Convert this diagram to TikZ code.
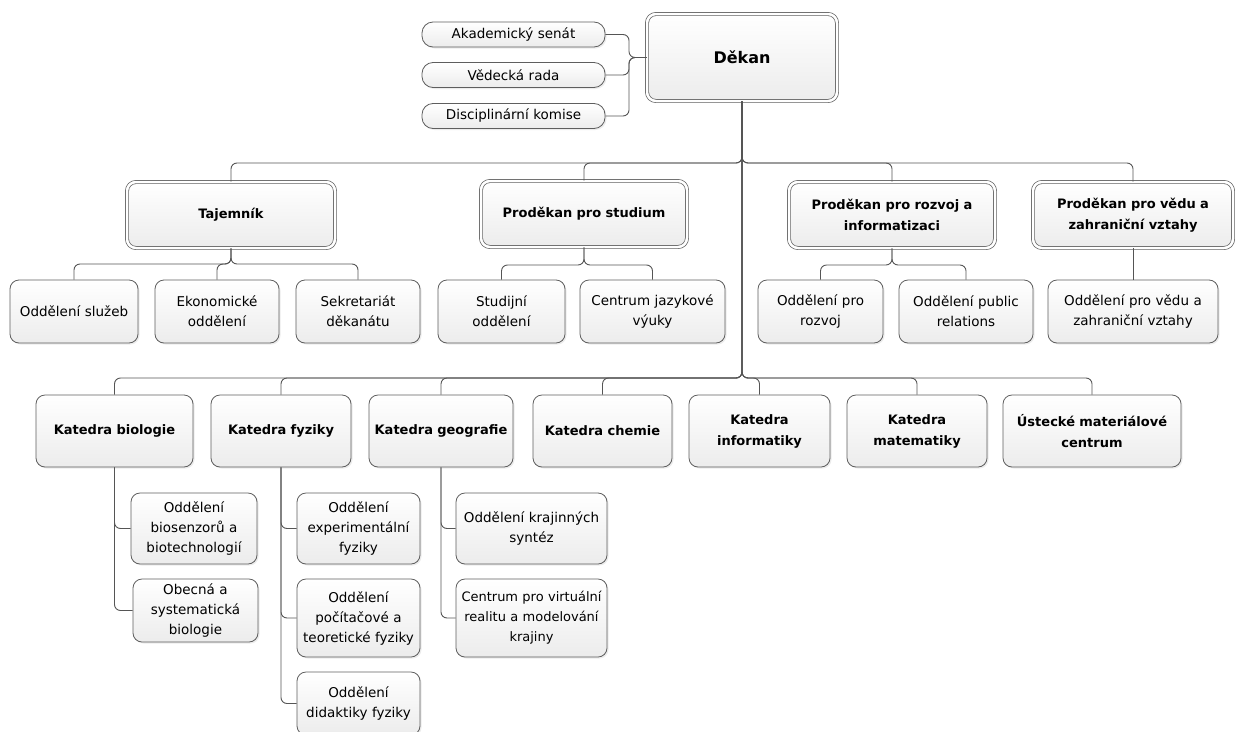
\documentclass[tikz,border=0pt]{standalone}
\usepackage{fontspec}
\setmainfont{DejaVu Sans}
\usetikzlibrary{shadows}
\definecolor{bd}{HTML}{5E5E5E}
\definecolor{cn}{HTML}{555555}
\definecolor{fb}{HTML}{ECECEC}
\tikzset{
  box/.style={draw=bd, line width=0.8pt, rounded corners=9pt, top color=white, bottom color=fb,
    align=center, inner sep=1pt,
    drop shadow={shadow xshift=1.5pt, shadow yshift=-1.5pt, opacity=0.15},
    font=\fontsize{13.5}{20}\selectfont},
  head/.style={box, font=\bfseries\fontsize{13}{21}\selectfont},
  dbl/.style={head, double=white, double distance=2.5pt, line width=0.7pt},
  pill/.style={box, rounded corners=11pt},
  sz/.style n args={2}{minimum width=#1pt, minimum height=#2pt, text width={\dimexpr #1pt-4pt\relax}},
  conn/.style={draw=cn, line width=0.9pt, rounded corners=6pt},
}
\begin{document}
\begin{tikzpicture}[x=1pt,y=-1pt]
\useasboundingbox (0,0) rectangle (1236,731);
\fill[white] (0,0) rectangle (1236,731);
\clip (0,0) rectangle (1236,731);

\coordinate (bk) at (629,0);
\coordinate (b1) at (0,163);
\coordinate (b2) at (0,378);
\coordinate (t1) at (0,264);
\coordinate (t2) at (0,265);

% top
\node[dbl, sz={190}{87}, font=\bfseries\fontsize{16}{20}\selectfont] (dek) at (742,57.5) {Děkan};
\node[pill, sz={183}{25}] (c1) at (513.5,34.5) {Akademický senát};
\node[pill, sz={183}{25}] (c2) at (513.5,75) {Vědecká rada};
\node[pill, sz={183}{25}] (c3) at (513.5,116) {Disciplinární komise};

% level 1
\node[dbl, sz={208}{66}] (taj) at (231,215) {Tajemník};
\node[dbl, sz={206}{66}] (pst) at (584,214) {Proděkan pro studium};
\node[dbl, sz={206}{66}] (prz) at (892,215) {Proděkan pro rozvoj a\\informatizaci};
\node[dbl, sz={200}{66}] (pvz) at (1133,215) {Proděkan pro vědu a\\zahraniční vztahy};

% level 2
\node[box, sz={128}{63}] (s1) at (74,311.5) {Oddělení služeb};
\node[box, sz={124}{63}] (s2) at (217,311.5) {Ekonomické\\oddělení};
\node[box, sz={124}{63}] (s3) at (358,311.5) {Sekretariát\\děkanátu};
\node[box, sz={127}{63}] (s4) at (501.5,311.5) {Studijní\\oddělení};
\node[box, sz={145}{63}] (s5) at (652.5,311.5) {Centrum jazykové\\výuky};
\node[box, sz={125}{63}] (s6) at (820.5,311.5) {Oddělení pro\\rozvoj};
\node[box, sz={134}{63}] (s7) at (966,311.5) {Oddělení public\\relations};
\node[box, sz={170}{63}] (s8) at (1133,311.5) {Oddělení pro vědu a\\zahraniční vztahy};

% katedry
\node[head, sz={157}{72}] (kb) at (114.5,431) {Katedra biologie};
\node[head, sz={140}{72}] (kf) at (281,431) {Katedra fyziky};
\node[head, sz={144}{72}] (kg) at (441,431) {Katedra geografie};
\node[head, sz={139}{72}] (kc) at (602.5,431) {Katedra chemie};
\node[head, sz={141}{72}] (ki) at (759.5,431) {Katedra\\informatiky};
\node[head, sz={140}{72}] (km) at (917,431) {Katedra\\matematiky};
\node[head, sz={178}{72}] (ku) at (1092,431) {Ústecké materiálové\\centrum};

% oddeleni kateder
\node[box, sz={126}{71}] (bio1) at (194,528.5) {Oddělení\\biosenzorů a\\biotechnologií};
\node[box, sz={125}{63}] (bio2) at (195.5,610.5) {Obecná a\\systematická\\biologie};
\node[box, sz={123}{71}] (fyz1) at (358.5,528.5) {Oddělení\\experimentální\\fyziky};
\node[box, sz={123}{78}] (fyz2) at (358.5,618) {Oddělení\\počítačové a\\teoretické fyziky};
\node[box, sz={123}{63}] (fyz3) at (358.5,703.5) {Oddělení\\didaktiky fyziky};
\node[box, sz={151}{71}] (geo1) at (531.5,528.5) {Oddělení krajinných\\syntéz};
\node[box, sz={151}{78}, font=\fontsize{13}{20}\selectfont] (geo2) at (531.5,618) {Centrum pro virtuální\\realitu a modelování\\krajiny};

% connectors
\foreach \c in {c1,c2,c3}
  \draw[conn] (dek.west) -- (dek.west -| bk) |- (\c.east);
\foreach \n in {taj,pst,prz,pvz}
  \draw[conn] (dek.south) |- (\n.north |- b1) -- (\n.north);
\foreach \n in {s1,s2,s3}
  \draw[conn] (taj.south) |- (\n.north |- t1) -- (\n.north);
\foreach \n in {s4,s5}
  \draw[conn] (pst.south) |- (\n.north |- t2) -- (\n.north);
\foreach \n in {s6,s7}
  \draw[conn] (prz.south) |- (\n.north |- t2) -- (\n.north);
\draw[conn] (pvz.south) -- (s8.north);
\foreach \n in {kb,kf,kg,kc,ki,km,ku}
  \draw[conn] (dek.south) |- (\n.north |- b2) -- (\n.north);
\foreach \n in {bio1,bio2}
  \draw[conn] (kb.south) |- (\n.west);
\foreach \n in {fyz1,fyz2,fyz3}
  \draw[conn] (kf.south) |- (\n.west);
\foreach \n in {geo1,geo2}
  \draw[conn] (kg.south) |- (\n.west);
\end{tikzpicture}
\end{document}
